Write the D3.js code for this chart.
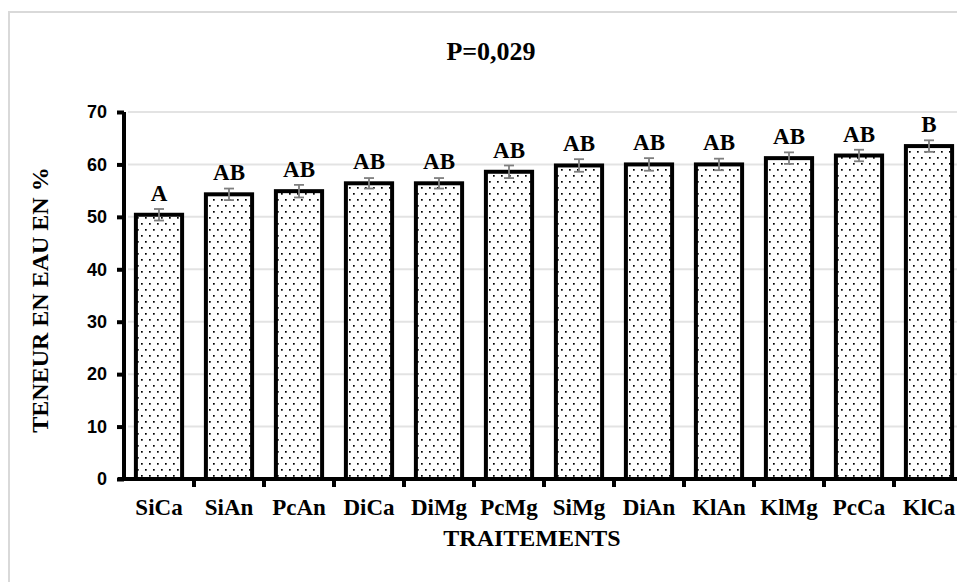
<!DOCTYPE html>
<html>
<head>
<meta charset="utf-8">
<script src="https://cdn.jsdelivr.net/npm/d3@7"></script>
<style>
  body { margin: 0; background: #fff; overflow: hidden; }
  .serif { font-family: "Liberation Serif", "Times New Roman", serif; font-weight: bold; }
  .sans { font-family: "Liberation Sans", Arial, sans-serif; font-weight: bold; }
</style>
</head>
<body>
<div class="chart"></div>
<script>
const w = 957;
const h = 582;

// data
const traitements = ["SiCa", "SiAn", "PcAn", "DiCa", "DiMg", "PcMg", "SiMg", "DiAn", "KlAn", "KlMg", "PcCa", "KlCa"];
const teneur = [50.4, 54.3, 54.9, 56.4, 56.4, 58.6, 59.8, 60.0, 60.0, 61.2, 61.7, 63.5];
const erreur = [1.1, 1.1, 1.2, 1.0, 1.0, 1.2, 1.2, 1.2, 1.1, 1.1, 1.1, 1.1];
const lettres = ["A", "AB", "AB", "AB", "AB", "AB", "AB", "AB", "AB", "AB", "AB", "B"];
const yTicks = [0, 10, 20, 30, 40, 50, 60, 70];

const svg = d3.select(".chart")
  .append("svg")
  .attr("width", w)
  .attr("height", h);

// dotted fill (Excel 5% pattern)
const pat = svg.append("defs").append("pattern")
  .attr("id", "dots")
  .attr("patternUnits", "userSpaceOnUse")
  .attr("width", 8)
  .attr("height", 12);
pat.append("rect").attr("width", 8).attr("height", 12).attr("fill", "#fff");
pat.append("rect").attr("x", 1).attr("y", 1).attr("width", 1.7).attr("height", 1.7).attr("fill", "#000");
pat.append("rect").attr("x", 5).attr("y", 7).attr("width", 1.7).attr("height", 1.7).attr("fill", "#000");

// chart frame, runs past the window on the right and bottom
svg.append("rect")
  .attr("x", 9).attr("y", 12)
  .attr("width", 1000).attr("height", 700)
  .attr("fill", "none")
  .attr("stroke", "#d9d9d9")
  .attr("stroke-width", 2);

const x = d3.scaleBand()
  .domain(traitements)
  .range([124, 964])
  .paddingInner(0.34)
  .paddingOuter(0.17);

const y = d3.scaleLinear()
  .domain([0, 70])
  .range([479, 112]);

// gridlines
svg.append("g")
  .selectAll("line")
  .data(yTicks.slice(1))
  .enter().append("line")
  .attr("x1", 128).attr("x2", w)
  .attr("y1", d => y(d)).attr("y2", d => y(d))
  .attr("stroke", "#e3e3e3")
  .attr("stroke-width", 2);

// bars
svg.append("g")
  .selectAll("rect")
  .data(traitements)
  .enter().append("rect")
  .attr("x", d => x(d))
  .attr("y", (d, i) => y(teneur[i]))
  .attr("width", x.bandwidth())
  .attr("height", (d, i) => y(0) - y(teneur[i]))
  .attr("fill", "url(#dots)")
  .attr("stroke", "#000")
  .attr("stroke-width", 4);

// error bars
const eb = svg.append("g")
  .attr("stroke", "#7f7f7f")
  .attr("stroke-width", 1.8);
traitements.forEach((d, i) => {
  const cx = x(d) + x.bandwidth() / 2;
  const y1 = y(teneur[i] + erreur[i]);
  const y2 = y(teneur[i] - erreur[i]);
  eb.append("line").attr("x1", cx).attr("x2", cx).attr("y1", y1).attr("y2", y2);
  eb.append("line").attr("x1", cx - 5).attr("x2", cx + 5).attr("y1", y1).attr("y2", y1);
  eb.append("line").attr("x1", cx - 5).attr("x2", cx + 5).attr("y1", y2).attr("y2", y2);
});

// letters
svg.append("g")
  .selectAll("text")
  .data(traitements)
  .enter().append("text")
  .attr("class", "serif")
  .attr("x", d => x(d) + x.bandwidth() / 2)
  .attr("y", (d, i) => y(teneur[i]) - 14)
  .attr("text-anchor", "middle")
  .attr("font-size", 23)
  .text((d, i) => lettres[i]);

// y axis
const yAxis = svg.append("g")
  .attr("transform", "translate(124,0)")
  .call(d3.axisLeft(y).tickValues(yTicks).tickSize(7).tickPadding(10));
yAxis.select(".domain").attr("stroke-width", 4).attr("d", "M0," + (y(70)) + "V" + y(0));
yAxis.selectAll(".tick line").attr("stroke-width", 4);
yAxis.selectAll(".tick text")
  .attr("class", "sans")
  .attr("font-size", 18)
  .attr("fill", "#000");

// x axis
const xAxis = svg.append("g")
  .attr("transform", "translate(0,479)")
  .call(d3.axisBottom(x).tickSize(0).tickPadding(20));
xAxis.select(".domain").attr("stroke-width", 4).attr("d", "M118,0H" + w);
xAxis.selectAll(".tick text")
  .attr("class", "serif")
  .attr("font-size", 23)
  .attr("fill", "#000");
// ticks between categories
xAxis.append("g")
  .selectAll("line")
  .data(traitements.slice(1))
  .enter().append("line")
  .attr("x1", d => x(d) - x.step() * x.paddingInner() / 2)
  .attr("x2", d => x(d) - x.step() * x.paddingInner() / 2)
  .attr("y1", 0).attr("y2", 8)
  .attr("stroke", "#000")
  .attr("stroke-width", 4);

// titles
svg.append("text")
  .attr("class", "serif")
  .attr("x", 491).attr("y", 60)
  .attr("text-anchor", "middle")
  .attr("font-size", 26)
  .text("P=0,029");

svg.append("text")
  .attr("class", "serif")
  .attr("x", 532).attr("y", 546)
  .attr("text-anchor", "middle")
  .attr("font-size", 24)
  .text("TRAITEMENTS");

svg.append("text")
  .attr("class", "serif")
  .attr("transform", "translate(48,300) rotate(-90)")
  .attr("text-anchor", "middle")
  .attr("font-size", 24)
  .text("TENEUR EN EAU EN %");
</script>
</body>
</html>
